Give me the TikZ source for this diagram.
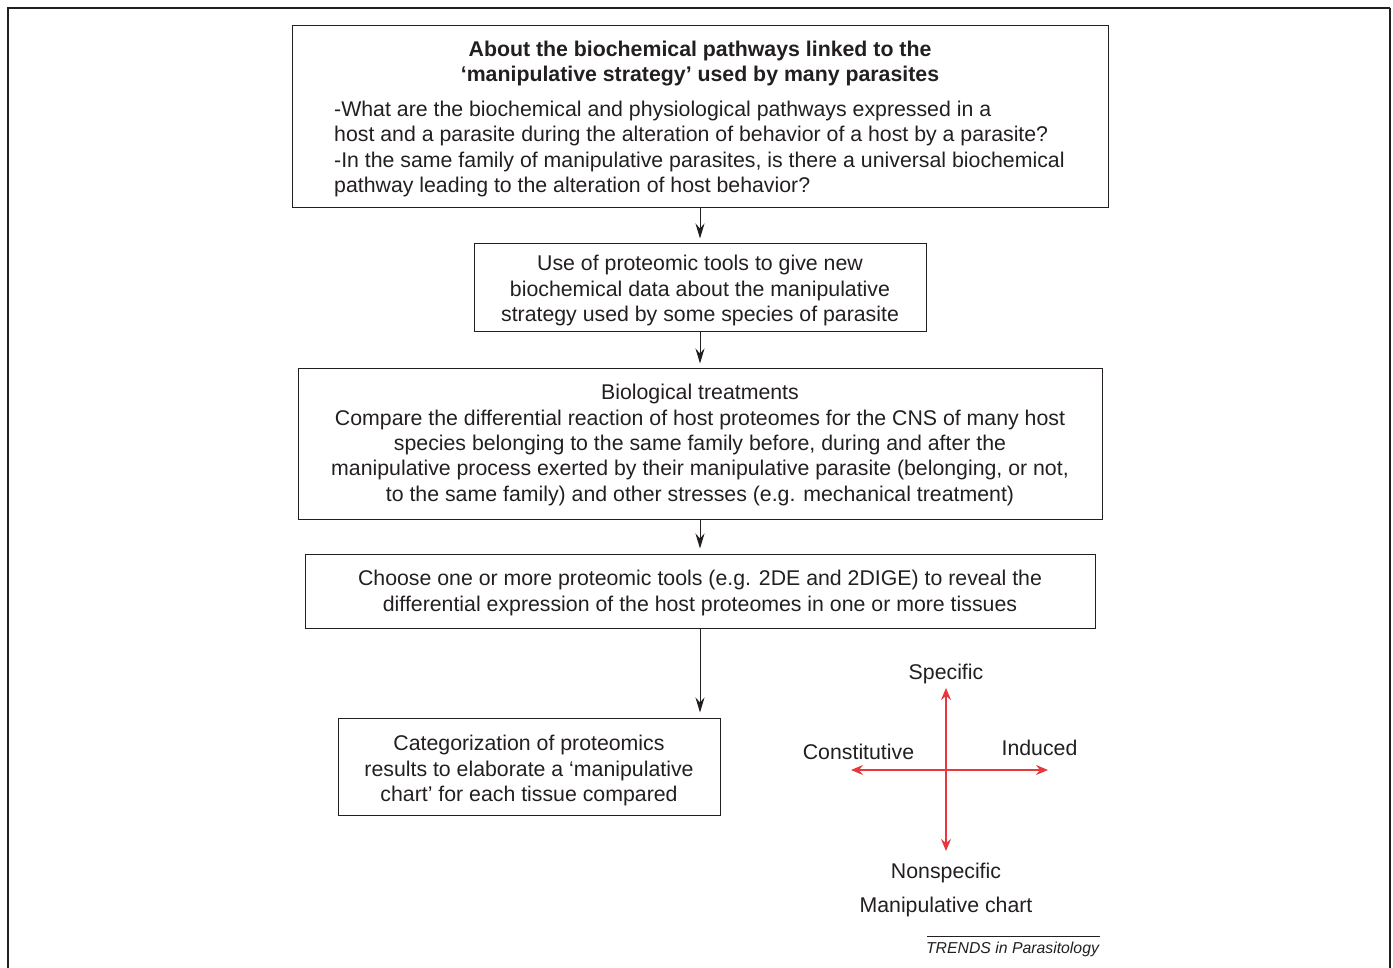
\documentclass[tikz,border=0pt]{standalone}
\usepackage{fontspec}
\setmainfont{Liberation Sans}
\usetikzlibrary{arrows.meta}
\definecolor{ink}{HTML}{231F20}
\definecolor{chartred}{HTML}{E8373D}
\newcommand{\bodyfont}{\fontsize{21.3}{25.4}\selectfont}
\tikzset{
  txt/.style={font=\bodyfont, text=ink, inner sep=0pt, align=center},
  box/.style={draw=ink, line width=1pt, inner sep=0pt, align=center, font=\bodyfont, text=ink},
  flow/.style={draw=ink, line width=1pt, -{Stealth[length=15pt,width=9pt,inset=5pt]}, shorten >=5pt},
  redarrow/.style={draw=chartred, line width=1.4pt, -{Stealth[length=12pt,width=10pt,inset=4pt]}},
}
\begin{document}
\begin{tikzpicture}[x=1pt,y=-1pt]
\useasboundingbox (0,0) rectangle (1393,968);
% outer frame
\draw[ink, line width=2.5pt] (8,970) -- (8,8) -- (1390,8);
\draw[ink, line width=1.5pt] (1390,8) -- (1390,970);
% boxes
\node[box, minimum width=816pt, minimum height=182pt] (b1) at (700,117) {};
\node[txt, font=\bodyfont\bfseries] (t1) at (700,63.5) {About the biochemical pathways linked to the\\`manipulative strategy' used by many parasites};
\node[txt, align=left, anchor=west] (t1b) at (334,149) {-What are the biochemical and physiological pathways expressed in a\\host and a parasite during the alteration of behavior of a host by a parasite?\\-In the same family of manipulative parasites, is there a universal biochemical\\pathway leading to the alteration of host behavior?};
\node[box, minimum width=452pt, minimum height=88pt] (b2) at (700,288) {};
\node[txt] (t2) at (700,290.5) {Use of proteomic tools to give new\\biochemical data about the manipulative\\strategy used by some species of parasite};
\node[box, minimum width=804pt, minimum height=150pt] (b3) at (700,444) {};
\node[txt] (t3) at (700,445) {Biological treatments\\Compare the differential reaction of host proteomes for the CNS of many host\\species belonging to the same family before, during and after the\\manipulative process exerted by their manipulative parasite (belonging, or not,\\to the same family) and other stresses (e.g. mechanical treatment)};
\node[box, minimum width=790pt, minimum height=74pt] (b4) at (700,591) {};
\node[txt] (t4) at (700,593) {Choose one or more proteomic tools (e.g. 2DE and 2DIGE) to reveal the\\differential expression of the host proteomes in one or more tissues};
\node[box, minimum width=382pt, minimum height=97pt] (b5) at (529,766.5) {};
\node[txt] (t5) at (529,770.5) {Categorization of proteomics\\results to elaborate a `manipulative\\chart' for each tissue compared};
% flow arrows
\draw[flow] (b1.south) -- (b2.north);
\draw[flow] (b2.south) -- (b3.north);
\draw[flow] (b3.south) -- (b4.north);
\draw[flow] (b4.south) -- (b4.south |- b5.north);
% manipulative chart
\coordinate (c) at (946,770);
\coordinate (ctop) at (946,688);
\coordinate (cbot) at (946,851);
\coordinate (cleft) at (851,770);
\coordinate (cright) at (1048,770);
\draw[redarrow] (c) -- (ctop);
\draw[redarrow] (c) -- (cbot);
\draw[redarrow] (c) -- (cleft);
\draw[redarrow] (c) -- (cright);
\node[txt] (spec) at (946,674) {Specific};
\node[txt] (const) at (858.5,752) {Constitutive};
\node[txt] (ind) at (1039.5,748) {Induced};
\node[txt] (nonspec) at (946,873) {Nonspecific};
\node[txt] (mchart) at (946,906.5) {Manipulative chart};
% credit
\node[txt, font=\fontsize{15.8}{18}\selectfont\itshape] (credit) at (1012.5,949) {TRENDS in Parasitology};
\draw[ink, line width=0.8pt] (927,936.5) -- (1100,936.5);
\end{tikzpicture}
\end{document}
